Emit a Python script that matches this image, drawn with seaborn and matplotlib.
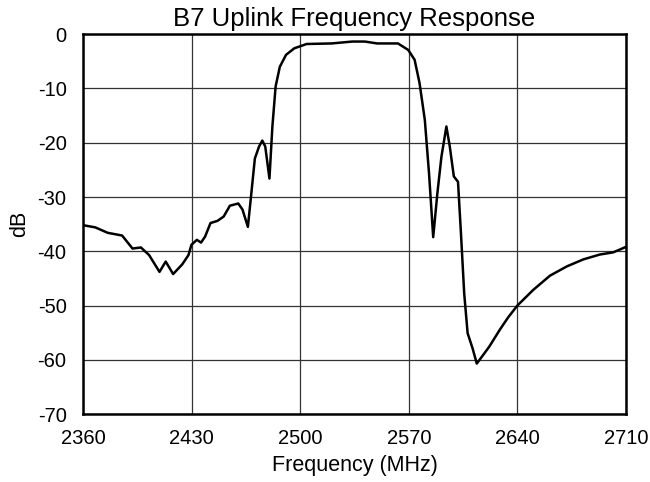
import matplotlib
matplotlib.use("Agg")
import matplotlib.pyplot as plt
import seaborn as sns
import pandas as pd

freq_mhz = [2360, 2367.8, 2375.8, 2385.1, 2391.8, 2397.2, 2402.5, 2409.2, 2413.2, 2418.0,
            2423.9, 2427.9, 2429.8, 2433.3, 2436.0, 2438.6, 2442.1, 2446.6, 2450.6, 2454.6,
            2460.0, 2462.7, 2466.2, 2468.0, 2470.7, 2473.4, 2475.5, 2477.4, 2480.1, 2482.0,
            2484.1, 2486.8, 2490.8, 2496.1, 2504.1, 2520.2, 2533.5, 2541.6, 2549.6, 2563.0,
            2569.6, 2573.7, 2576.9, 2580.3, 2583.0, 2585.7, 2588.4, 2591.0, 2594.2, 2596.4,
            2599.0, 2601.7, 2603.6, 2605.7, 2607.9, 2611.1, 2613.8, 2616.4, 2621.8, 2628.8,
            2634.0, 2640.0, 2650.3, 2661.0, 2671.8, 2682.5, 2693.2, 2701.8, 2710.0]
gain_db = [-35.2, -35.6, -36.6, -37.1, -39.5, -39.3, -40.7, -43.8, -41.9, -44.2,
           -42.4, -40.7, -38.8, -37.9, -38.4, -37.3, -34.8, -34.4, -33.6, -31.6,
           -31.2, -32.3, -35.5, -30.5, -22.9, -20.7, -19.6, -20.7, -26.6, -17.0,
           -9.6, -6.0, -3.8, -2.6, -1.8, -1.7, -1.35, -1.35, -1.7, -1.7,
           -2.9, -4.7, -9.0, -15.8, -25.6, -37.4, -29.3, -22.6, -17.0, -20.7,
           -26.2, -27.2, -36.7, -47.8, -55.1, -57.9, -60.7, -59.7, -57.6, -54.4,
           -52.2, -50.0, -47.1, -44.5, -42.8, -41.5, -40.6, -40.2, -39.2]
x_ticks = [2360, 2430, 2500, 2570, 2640, 2710]
y_ticks = [0, -10, -20, -30, -40, -50, -60, -70]

sns.set_style("white")
plt.rcParams['font.family'] = ['Liberation Sans', 'DejaVu Sans']
plt.rcParams['axes.unicode_minus'] = False
plt.rcParams['text.color'] = 'black'
plt.rcParams['axes.labelcolor'] = 'black'

df = pd.DataFrame({"Frequency (MHz)": freq_mhz, "dB": gain_db})
fig = plt.figure(figsize=(6.5, 4.82), dpi=100)
ax = fig.add_axes([0.128, 0.141, 0.835, 0.788])
sns.lineplot(data=df, x="Frequency (MHz)", y="dB", ax=ax, color="black", linewidth=1.8)
ax.set_xlim(2360, 2710)
ax.set_ylim(-70, 0)
ax.set_xticks(x_ticks)
ax.set_yticks(y_ticks)
ax.grid(True, color="#333333", linewidth=0.9)
for s in ax.spines.values():
    s.set_color("black")
    s.set_linewidth(1.8)
ax.tick_params(axis="x", length=0, labelsize=14.5, pad=11, colors="black")
ax.tick_params(axis="y", length=0, labelsize=14.5, pad=12, colors="black")
ax.set_xlabel("Frequency (MHz)", fontsize=15.5, labelpad=5)
ax.set_ylabel("dB", fontsize=15.5, labelpad=5)
ax.set_title("B7 Uplink Frequency Response", fontsize=18.5, pad=6)
fig.savefig("out.png", dpi=100)
